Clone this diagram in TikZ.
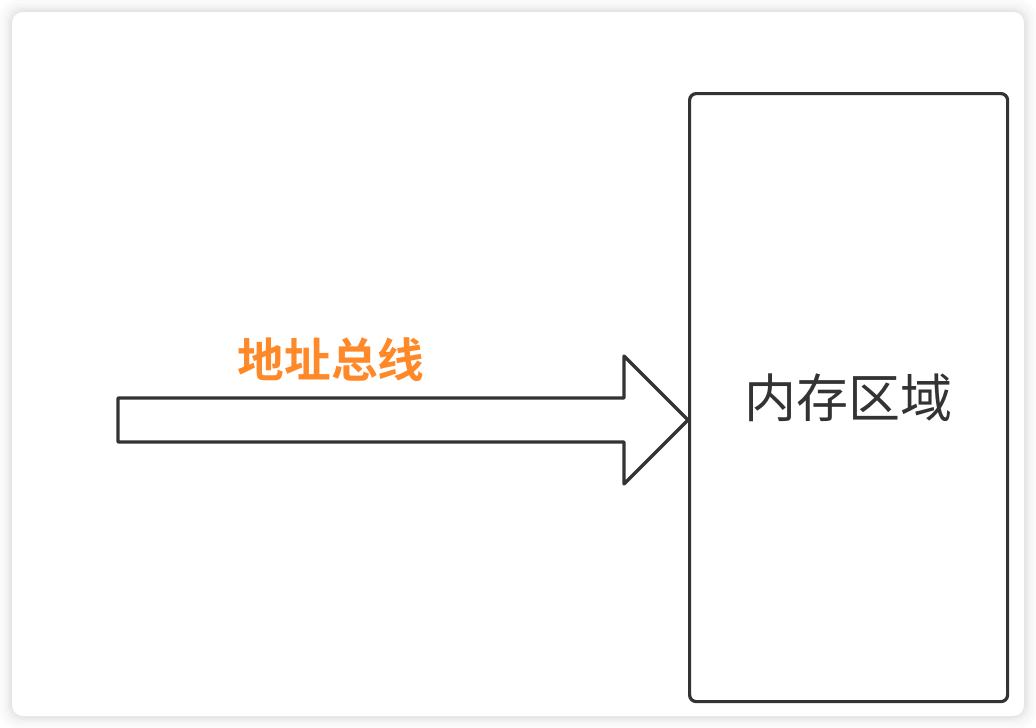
\documentclass[tikz,border=0pt]{standalone}
\usepackage{fontspec}
\newfontfamily\cjk{Noto Sans CJK SC}
\newfontfamily\cjkb[BoldFont={Noto Sans CJK SC Bold}]{Noto Sans CJK SC}
\definecolor{linegray}{RGB}{51,51,51}
\definecolor{busorange}{RGB}{255,136,40}
\definecolor{shadowgray}{RGB}{150,150,150}
\begin{document}
\begin{tikzpicture}[x=0.75pt,y=-0.75pt,
  outline/.style={draw=linegray,line width=2.4pt,line join=round},
  shadowlayer/.style={fill=shadowgray,rounded corners=12pt}]
\useasboundingbox (0,0) rectangle (1036,728);
\fill[white] (0,0) rectangle (1036,728);
% card shadow
\foreach \d/\o in {12/0.03,9/0.04,6/0.05,4/0.06,2/0.08}{
  \fill[shadowgray,opacity=\o,rounded corners=12pt] (12-\d,12-\d) rectangle (1024+\d,716+\d);
}
% card
\fill[white,rounded corners=8pt] (12,12) rectangle (1024,716);
% memory box
\node[outline,rounded corners=5pt,minimum width=318*0.75pt,minimum height=608*0.75pt,anchor=north west,inner sep=0pt] (mem) at (688,92) {};
\node[text=linegray,font=\cjk\fontsize{39pt}{39pt}\selectfont] (memlabel) at (848,398) {内存区域};
% arrow
\coordinate (tip) at (mem.west |- 0,420);
\draw[outline,fill=white] (118,398) -- (624,398) -- (624,356) -- (tip) -- (624,484) -- (624,442) -- (118,442) -- cycle;
\node[text=busorange,font=\cjkb\bfseries\fontsize{35pt}{35pt}\selectfont] (bus) at (331,360) {地址总线};
\end{tikzpicture}
\end{document}
